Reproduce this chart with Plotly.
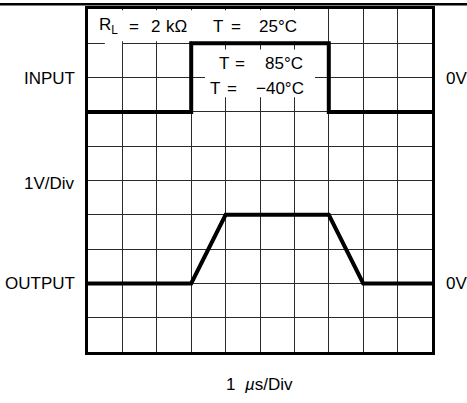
import plotly.graph_objects as go

# Data (grid divisions)
input_x = [0, 3, 3, 7, 7, 10]
input_y = [7, 7, 9, 9, 7, 7]
output_x = [0, 3, 4, 7, 8, 10]
output_y = [2, 2, 4, 4, 2, 2]
left_labels = ["INPUT", "1V/Div", "OUTPUT"]
right_labels = ["0V", "0V"]
x_title = "1\u00a0\u00a0<i>µ</i>s/Div"

FS = 17
L0, PW = 88.0, 344.0   # plot-area pixel left / width
B0, PH = 352.0, 346.0  # plot-area pixel bottom / height


def px(x):
    return (x - L0) / PW


def py(y):
    return (B0 - y) / PH


fig = go.Figure()
for xs, ys in [(input_x, input_y), (output_x, output_y)]:
    fig.add_trace(go.Scatter(x=xs, y=ys, mode="lines",
                             line=dict(color="black", width=4),
                             showlegend=False, hoverinfo="skip", cliponaxis=False))

ann = []


def add(text, x, y, xanchor="center"):
    ann.append(dict(x=px(x), y=py(y), xref="paper", yref="paper", text=text,
                    showarrow=False, xanchor=xanchor, yanchor="middle",
                    font=dict(size=FS)))


for t, y in zip(left_labels, [76, 182, 283]):
    add(t, 77, y, "right")
for t, y in zip(right_labels, [76, 283]):
    add(t, 444, y, "left")
add(x_title, 259, 385)

# condition texts
add("R<sub>L</sub>", 97, 23.5, "left")
add("=", 134, 23.5)
add("2", 155, 23.5)
add("kΩ", 176, 23.5)
add("T", 217.5, 23.5)
add("=", 236, 23.5)
add("25°C", 277.5, 23.5)
add("T", 224, 61)
add("=", 240, 61)
add("85°C", 284, 61)
add("T", 215, 86)
add("=", 231.5, 86)
add("−40°C", 280, 86)

# top rule across the whole figure (drawn as a thin filled annotation box)
ann.append(dict(x=px(0), y=py(1), xref="paper", yref="paper", text="\u00a0",
                showarrow=False, xanchor="left", yanchor="middle",
                width=467, height=2, borderpad=0, borderwidth=0,
                bgcolor="black", font=dict(size=1)))

shapes = [
    # white masks behind text (hide grid lines)
    dict(type="rect", xref="x", yref="y", x0=0.04, x1=6.62, y0=9.06, y1=9.96,
         fillcolor="white", line=dict(width=0), layer="between"),
    dict(type="rect", xref="x", yref="y", x0=0.49, x1=0.99, y0=8.9, y1=9.1,
         fillcolor="white", line=dict(width=0), layer="between"),
    dict(type="rect", xref="x", yref="y", x0=3.40, x1=6.60, y0=7.43, y1=8.82,
         fillcolor="white", line=dict(width=0), layer="between"),
    dict(type="line", xref="paper", yref="paper", x0=px(0), x1=px(467), y0=py(1.5), y1=py(1.5),
         line=dict(color="black", width=2), layer="above"),
]

axis_common = dict(range=[0, 10], dtick=1, tick0=0, showgrid=True, gridcolor="#2a2a2a",
                   gridwidth=1.2, zeroline=False, showticklabels=False, ticks="",
                   showline=True, linecolor="black", linewidth=2.5, mirror=True, fixedrange=True)

fig.update_layout(
    width=467, height=403,
    margin=dict(l=88, r=35, t=6, b=51),
    paper_bgcolor="white", plot_bgcolor="white",
    font=dict(family="Liberation Sans, Arial, sans-serif", size=FS, color="black"),
    xaxis=axis_common, yaxis=axis_common,
    annotations=ann, shapes=shapes,
)
fig.write_html("out.html", config={"displayModeBar": False},
               post_script="document.body.style.margin='0';")
